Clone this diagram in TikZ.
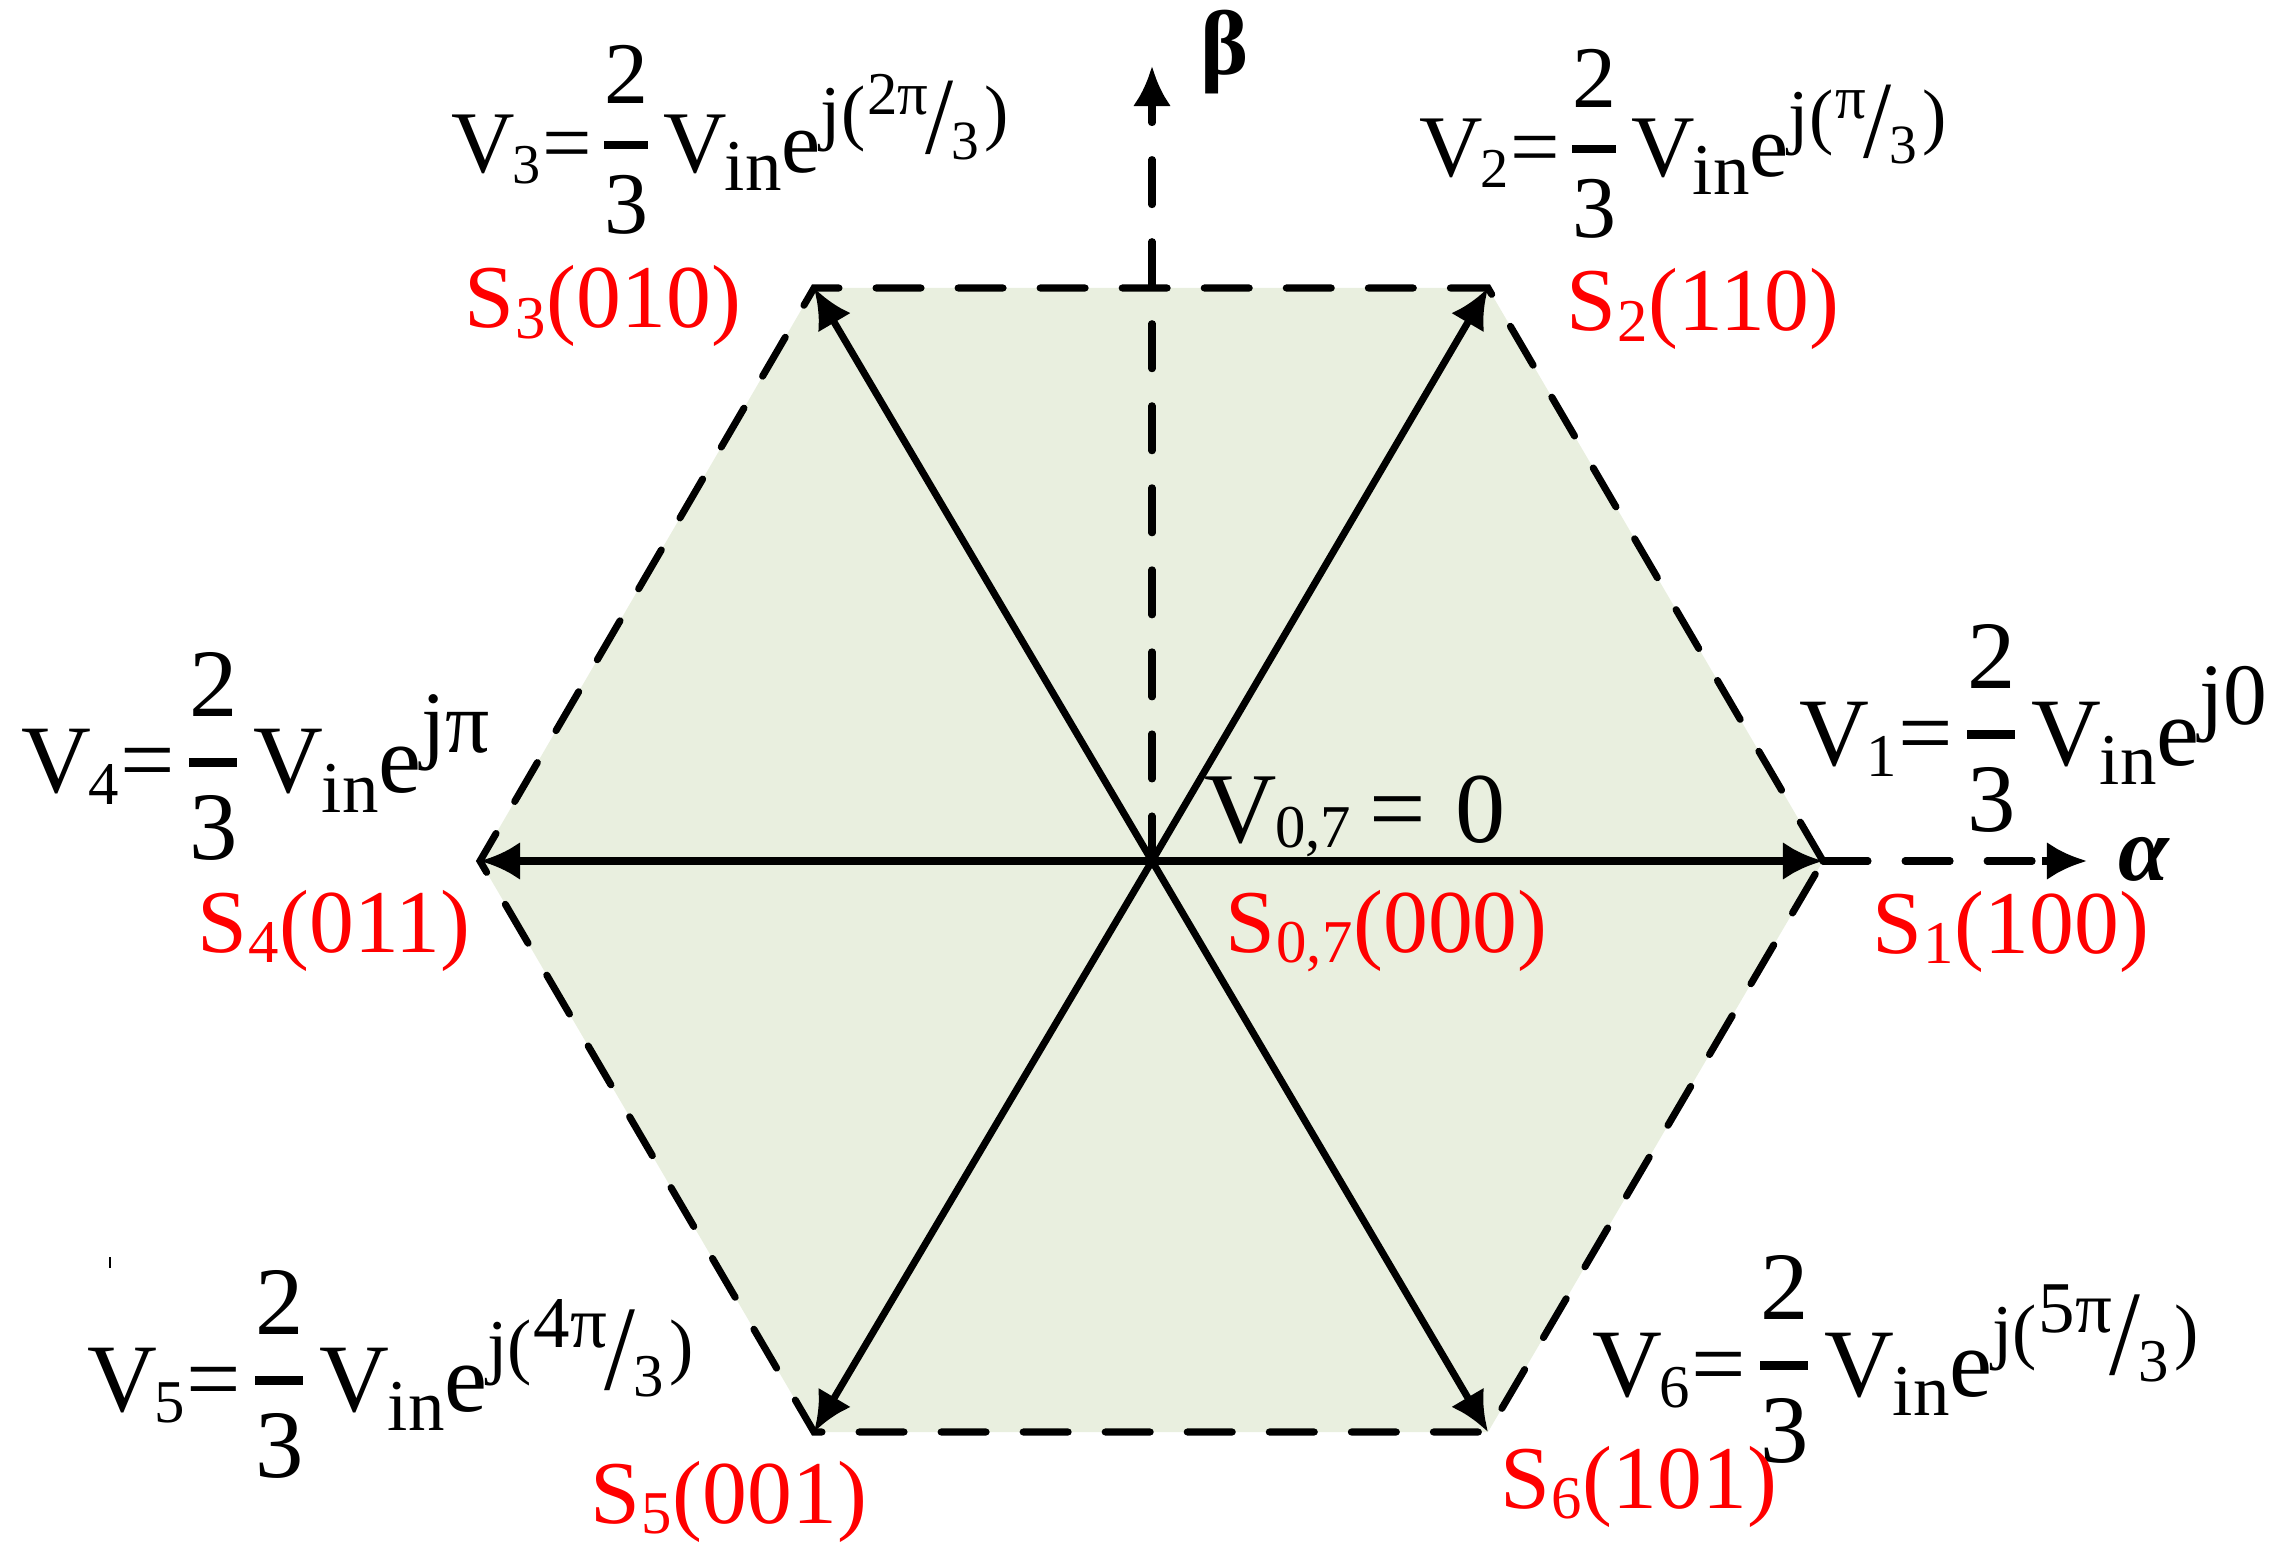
\documentclass[tikz,border=0pt]{standalone}
\usepackage{fontspec}
\usepackage{graphicx}
\usepackage{relsize}
\setmainfont{Liberation Serif}
\usetikzlibrary{arrows.meta}
\definecolor{hexfill}{HTML}{E9EFDF}
\definecolor{lblred}{HTML}{FF0000}
% index subscript of V
\newcommand{\Vsub}[1]{\raisebox{-0.12em}{\textscale{0.64}{#1}}}
% subscript "in"
\newcommand{\Vin}{V\kern-0.02em\raisebox{-0.2em}{\textscale{0.8}{in}}}
% big fraction 2/3
\newcommand{\Ftwothird}{\hspace{0.14em}\rlap{\raisebox{0.79em}{2}}\rlap{\raisebox{-0.69em}{3}}\rule[0.27em]{0.5em}{0.09em}\hspace{0.17em}}
% exponent of the form j(^{x}/_3)
\newcommand{\Jexp}[1]{\raisebox{0.42em}{\textscale{0.8}{j(}}\kern0.02em\raisebox{0.66em}{\textscale{0.72}{#1}}\kern-0.03em\raisebox{0.22em}{\scalebox{1.15}[1.25]{/}}\kern-0.02em\raisebox{0.15em}{\textscale{0.63}{3}}\kern0.06em\raisebox{0.42em}{\textscale{0.8}{)}}}
\newcommand{\Jsimple}[1]{\raisebox{0.42em}{\textscale{0.86}{#1}}}
\newcommand{\Veq}[2]{V\kern-0.03em\Vsub{#1}\kern0.02em=\Ftwothird\Vin e#2}
\newcommand{\Slab}[2]{S\kern0.01em\raisebox{-0.12em}{\textscale{0.64}{#1}}\kern0.01em(#2)}
\begin{document}
\begin{tikzpicture}[x=0.01cm,y=-0.01cm,
  vec/.style={line width=2pt,-{Latex[length=0.4cm,width=0.38cm]}},
  hexedge/.style={line width=2pt,line cap=round,dash pattern=on 0.45cm off 0.37cm},
  axisline/.style={line width=2pt,line cap=round,dash pattern=on 0.45cm off 0.37cm},
  eqsmall/.style={anchor=base west,inner sep=0pt,font=\fontsize{25}{30}\selectfont},
  eqbig/.style={anchor=base west,inner sep=0pt,font=\fontsize{27.5}{30}\selectfont},
  slab/.style={anchor=base west,inner sep=0pt,text=lblred,font=\fontsize{25.5}{30}\selectfont}]
\useasboundingbox (0,0) rectangle (2296,1567);
% vertices
\coordinate (O) at (1152,861);
\coordinate (P1) at (1823,861);
\coordinate (P2) at (1488,288);
\coordinate (P3) at (814,288);
\coordinate (P4) at (480,861);
\coordinate (P5) at (814,1432);
\coordinate (P6) at (1488,1432);
\coordinate (Atip) at (2087,861);
\coordinate (Btip) at (1152,66);
\coordinate (Bpre) at (1152,111);
\coordinate (Apre) at (2042,861);
% fill
\fill[hexfill] (P1) -- (P2) -- (P3) -- (P4) -- (P5) -- (P6) -- cycle;
% axes
\draw[axisline] (O) -- (Bpre);
\draw[axisline] (P1) -- (Apre);
\draw[line width=2pt,-{Latex[length=0.4cm,width=0.38cm]}] (Bpre) -- (Btip);
\draw[line width=2pt,-{Latex[length=0.4cm,width=0.38cm]}] (Apre) -- (Atip);
% hexagon edges
\draw[hexedge] (P1) -- (P2) -- (P3) -- (P4) -- (P5) -- (P6) -- cycle;
% vectors
\foreach \p in {P1,P2,P3,P4,P5,P6} \draw[vec] (O) -- (\p);
\fill (O) circle (0.07cm);
% axis labels
\node[anchor=center,inner sep=0pt,font=\fontsize{26}{30}\selectfont\bfseries] (beta) at (1225,52) {β};
\node[anchor=base west,inner sep=0pt,font=\fontsize{26}{30}\selectfont\bfseries\itshape] (alpha) at (2118,880) {α};
% equations
\node[eqbig] (v1) at (1799,765) {\Veq{1}{\Jsimple{j0}}};
\node[eqsmall] (v2) at (1419,177) {\Veq{2}{\Jexp{π}}};
\node[eqsmall] (v3) at (451,173) {\Veq{3}{\Jexp{2π}}};
\node[eqbig] (v4) at (21,793) {\Veq{4}{\Jsimple{jπ}}};
\node[eqbig] (v5) at (87,1411) {\Veq{5}{\Jexp{4π}}};
\node[eqbig] (v6) at (1592,1396) {\Veq{6}{\Jexp{5π}}};
\node[anchor=base west,inner sep=0pt,font=\fontsize{28.5}{30}\selectfont] (v0) at (1204,842) {V\kern-0.02em\raisebox{-0.05em}{\textscale{0.64}{0,7}}\kern0.18em=\kern0.3em0};
% switching states
\node[slab] (s1) at (1872,953) {\Slab{1}{100}};
\node[slab] (s2) at (1566,331) {\Slab{2}{110}};
\node[slab] (s3) at (464,328) {\Slab{3}{010}};
\node[slab] (s4) at (197,952) {\Slab{4}{011}};
\node[slab] (s0) at (1225,952) {\Slab{0,7}{000}};
\node[slab] (s5) at (590,1523) {\Slab{5}{001}};
\node[slab] (s6) at (1500,1508) {\Slab{6}{101}};
% stray tick mark
\draw[line width=0.8pt] (110,1257) -- (110,1268);
\end{tikzpicture}
\end{document}
